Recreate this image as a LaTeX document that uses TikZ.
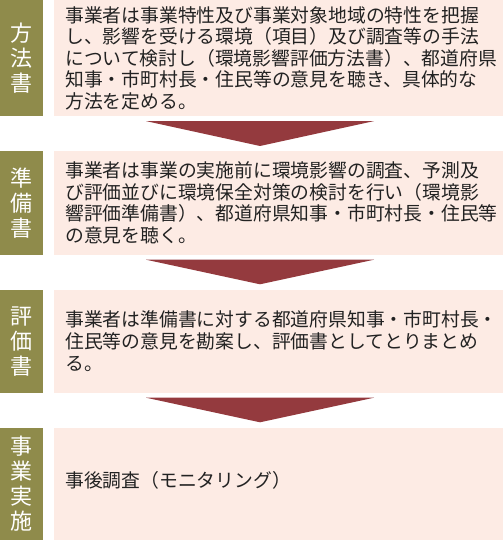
\documentclass[tikz,border=0pt]{standalone}
\usepackage{fontspec}
\newfontfamily\jp{Noto Sans CJK JP}
\usetikzlibrary{calc}
\definecolor{barcol}{HTML}{8F8B4B}
\definecolor{boxcol}{HTML}{FDEBE4}
\definecolor{arrcol}{HTML}{943A3E}
\definecolor{txtcol}{HTML}{222222}
\begin{document}
\begin{tikzpicture}[x=1pt,y=-1pt,
  labelbar/.style={fill=barcol, draw=none, inner sep=0pt, minimum width=43pt,
    anchor=north west, text=white, align=center, font=\jp\fontsize{22}{25}\selectfont},
  stagebox/.style={fill=boxcol, draw=none, inner sep=0pt, minimum width=449pt, anchor=north west},
  stagetext/.style={anchor=west, inner sep=0pt, align=left, text=txtcol,
    font=\jp\fontsize{18.8}{21.6}\selectfont},
  flowarrow/.style={fill=arrcol, draw=none}]
\useasboundingbox (0,0) rectangle (503,540);

% rows
\node[labelbar, minimum height=116pt] (l1) at (0,0) {方\\法\\書};
\node[stagebox, minimum height=116pt] (b1) at (54,0) {};
\node[labelbar, minimum height=104pt] (l2) at (0,150.7) {準\\備\\書};
\node[stagebox, minimum height=104pt] (b2) at (54,150.7) {};
\node[labelbar, minimum height=103.4pt] (l3) at (0,289.3) {評\\価\\書};
\node[stagebox, minimum height=103.4pt] (b3) at (54,289.3) {};
\node[labelbar, minimum height=112.7pt] (l4) at (0,427.3) {事\\業\\実\\施};
\node[stagebox, minimum height=112.7pt] (b4) at (54,427.3) {};

% texts
\node[stagetext] (t1) at ($(b1.west)+(11,0)$) {事業者は事業特性及び事業対象地域の特性を把握\\し、影響を受ける環境（項目）及び調査等の手法\\について検討し（環境影響評価方法書）、都道府県\\知事・市町村長・住民等の意見を聴き、具体的な\\方法を定める。};
\node[stagetext] (t2) at ($(b2.west)+(11,0)$) {事業者は事業の実施前に環境影響の調査、予測及\\び評価並びに環境保全対策の検討を行い（環境影\\響評価準備書）、都道府県知事・市町村長・住民等\\の意見を聴く。};
\node[stagetext] (t3) at ($(b3.west)+(11,0)$) {事業者は準備書に対する都道府県知事・市町村長・\\住民等の意見を勘案し、評価書としてとりまとめ\\る。};
\node[stagetext] (t4) at ($(b4.west)+(11,-3)$) {事後調査（モニタリング）};

% arrows
\fill[flowarrow] ($(b1.south west)+(92,4.7)$) -- ($(b1.south west)+(320,4.7)$) -- ($(b2.north west)+(206,-4.7)$) -- cycle;
\fill[flowarrow] ($(b2.south west)+(92,4.6)$) -- ($(b2.south west)+(320,4.6)$) -- ($(b3.north west)+(206,-5)$) -- cycle;
\fill[flowarrow] ($(b3.south west)+(92,4.6)$) -- ($(b3.south west)+(320,4.6)$) -- ($(b4.north west)+(206,-5)$) -- cycle;
\end{tikzpicture}
\end{document}
